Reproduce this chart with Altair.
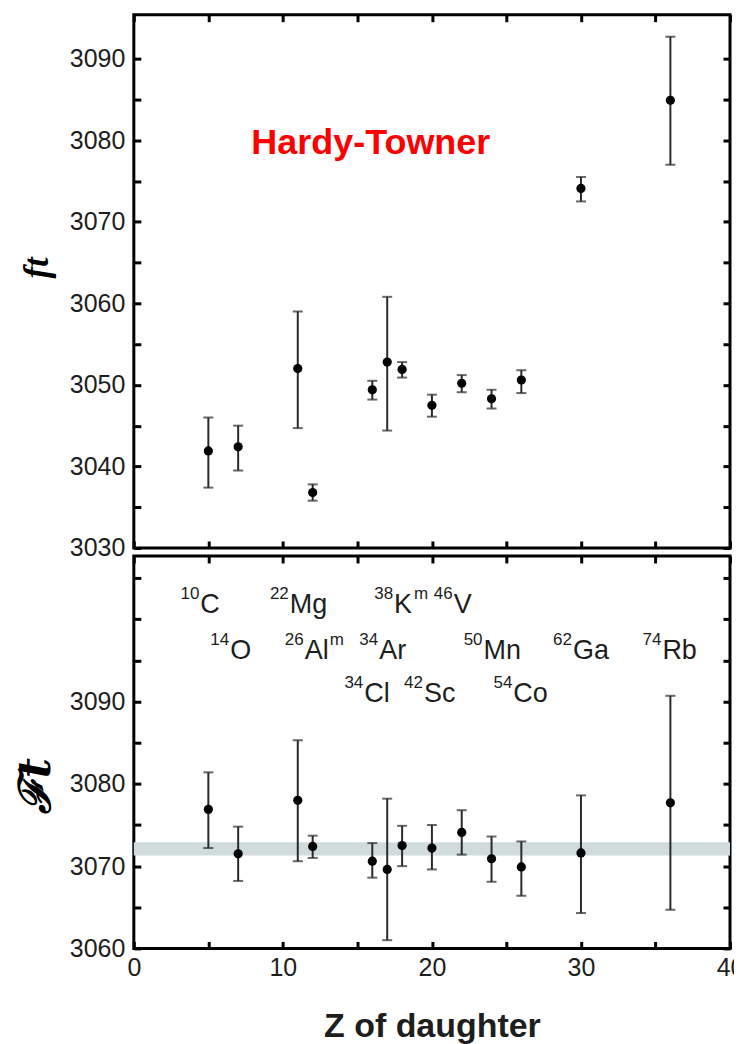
import altair as alt
import pandas as pd

# ---------------- data ----------------
NUCLIDE_MASS = ["10", "14", "22", "26", "34", "34", "38", "42", "46", "50", "54", "62", "74"]
NUCLIDE_SYM = ["C", "O", "Mg", "Al", "Cl", "Ar", "K", "Sc", "V", "Mn", "Co", "Ga", "Rb"]
NUCLIDE_ISO = ["", "", "", "m", "", "", "m", "", "", "", "", "", ""]
Z_DAUGHTER = [5, 7, 11, 12, 16, 17, 18, 20, 22, 24, 26, 30, 36]
LABEL_ROW = [1, 2, 1, 2, 3, 2, 1, 3, 1, 2, 3, 2, 2]

FT = [3041.9, 3042.4, 3052.0, 3036.8, 3049.4, 3052.8, 3051.9, 3047.5, 3050.2, 3048.3, 3050.6, 3074.1, 3084.9]
FT_LO = [3037.4, 3039.5, 3044.7, 3035.8, 3048.2, 3044.4, 3050.9, 3046.1, 3049.1, 3047.1, 3049.0, 3072.5, 3077.0]
FT_HI = [3046.0, 3045.0, 3059.0, 3037.8, 3050.5, 3060.8, 3052.8, 3048.8, 3051.2, 3049.4, 3051.8, 3075.5, 3092.7]

CFT = [3076.9, 3071.5, 3078.0, 3072.4, 3070.6, 3069.6, 3072.5, 3072.2, 3074.1, 3070.9, 3069.9, 3071.6, 3077.7]
CFT_LO = [3072.2, 3068.2, 3070.6, 3071.0, 3068.6, 3061.0, 3070.0, 3069.6, 3071.4, 3068.1, 3066.4, 3064.3, 3064.7]
CFT_HI = [3081.4, 3074.8, 3085.3, 3073.7, 3072.8, 3078.2, 3074.9, 3075.0, 3076.8, 3073.6, 3073.0, 3078.6, 3090.7]

BAND_LO = [3071.3]
BAND_HI = [3072.9]
BAND_X = [0]
BAND_X2 = [40]

ROW_Y = {1: 3100.8, 2: 3095.2, 3: 3090.0}   # label rows (Ft units)
TITLE_TEXT = ["Hardy-Towner"]
TITLE_Z = [15.9]
TITLE_FT = [3078.3]

X_TICKS = list(range(0, 41, 5))
Y_TICKS_TOP = list(range(3030, 3091, 5))
Y_TICKS_BOT = list(range(3060, 3106, 5))

X_DOMAIN = [0, 40]
Y_DOMAIN_TOP = [3030, 3095.4]
Y_DOMAIN_BOT = [3060, 3107.7]

# ---------------- tables ----------------
df = pd.DataFrame({
    "z": Z_DAUGHTER, "mass": NUCLIDE_MASS, "sym": NUCLIDE_SYM, "iso": NUCLIDE_ISO,
    "ft": FT, "ft_lo": FT_LO, "ft_hi": FT_HI,
    "Ft": CFT, "Ft_lo": CFT_LO, "Ft_hi": CFT_HI,
    "ly": [ROW_Y[r] for r in LABEL_ROW],
})
band = pd.DataFrame({"x": BAND_X, "x2": BAND_X2, "lo": BAND_LO, "hi": BAND_HI})
ttl = pd.DataFrame({"t": TITLE_TEXT, "z": TITLE_Z, "v": TITLE_FT})

W = 597
H_TOP = 534
H_BOT = 393
INK = "#1e1e1e"
BAR = "#2a2a2a"
FONT = "Liberation Sans"

xscale = alt.Scale(domain=X_DOMAIN, nice=False, zero=False)
yscale_top = alt.Scale(domain=Y_DOMAIN_TOP, nice=False, zero=False)
yscale_bot = alt.Scale(domain=Y_DOMAIN_BOT, nice=False, zero=False)

# inward ticks: negative tick length given as an expression
TICK = dict(domain=False, tickSize={"expr": "-7"}, tickWidth=3, tickColor="black", grid=False)
LBL = dict(labelFont=FONT, labelFontSize=25, labelColor=INK, format="d")


def xaxis(orient, labels, title=None, **kw):
    if labels:
        return alt.Axis(orient=orient, values=X_TICKS, labels=True, title=title,
                        labelExpr="datum.value % 10 === 0 ? datum.label : ''",
                        labelFlush=False, **TICK, **LBL, **kw)
    return alt.Axis(orient=orient, values=X_TICKS, labels=False, title=title, **TICK, **kw)


def yaxis(orient, values, labels, title=None, **kw):
    if labels:
        return alt.Axis(orient=orient, values=values, labels=True, title=title,
                        labelExpr="datum.value % 10 === 0 && datum.value <= 3090 ? datum.label : ''",
                        labelPadding=16, **TICK, **LBL, **kw)
    return alt.Axis(orient=orient, values=values, labels=False, title=title, **TICK, **kw)


def panel(data, col, lo, hi, yscale, yticks, ytitle, ytitle_font, ytitle_size, ytitle_y,
          ytitle_x, bottom_labels):
    base = alt.Chart(data)
    if bottom_labels:
        bx = xaxis("bottom", True, "Z of daughter", titleFont=FONT, titleFontSize=34,
                   titleFontWeight="bold", titleColor=INK, titlePadding=29, labelPadding=14)
    else:
        bx = xaxis("bottom", False)
    rules = base.mark_rule(color=BAR, strokeWidth=2).encode(
        x=alt.X("z:Q", scale=xscale, axis=bx),
        y=alt.Y(f"{lo}:Q", scale=yscale,
                axis=yaxis("left", yticks, True, ytitle, titleFont=ytitle_font,
                           titleFontSize=ytitle_size, titleFontWeight="bold",
                           titleFontStyle="italic", titleColor="black",
                           titleAngle=270, titleBaseline="alphabetic",
                           titleX=ytitle_x, titleY=ytitle_y)),
        y2=f"{hi}:Q",
    )
    cap_lo = base.mark_tick(orient="horizontal", size=10, thickness=2, color=BAR).encode(
        x=alt.X("z:Q", scale=xscale, axis=xaxis("top", False)),
        y=alt.Y(f"{lo}:Q", scale=yscale, axis=yaxis("right", yticks, False)),
    )
    cap_hi = base.mark_tick(orient="horizontal", size=10, thickness=2, color=BAR).encode(
        x=alt.X("z:Q", scale=xscale, axis=None),
        y=alt.Y(f"{hi}:Q", scale=yscale, axis=None),
    )
    pts = base.mark_circle(size=85, color="black", opacity=1).encode(
        x=alt.X("z:Q", scale=xscale, axis=None),
        y=alt.Y(f"{col}:Q", scale=yscale, axis=None),
    )
    return [rules, cap_lo, cap_hi, pts]


# ---------------- top panel: ft ----------------
top_layers = panel(df, "ft", "ft_lo", "ft_hi", yscale_top, Y_TICKS_TOP, "ft",
                   "Liberation Serif", 35, 253, -86, False)
hardy = alt.Chart(ttl).mark_text(font=FONT, fontSize=36, fontWeight="bold", color="#ff0000",
                                 align="center", baseline="alphabetic").encode(
    x=alt.X("z:Q", scale=xscale, axis=None),
    y=alt.Y("v:Q", scale=yscale_top, axis=None),
    text="t:N",
)
top = alt.layer(*top_layers, hardy).resolve_axis(x="independent", y="independent").properties(
    width=W, height=H_TOP)

# ---------------- bottom panel: Ft ----------------
band_layer = alt.Chart(band).mark_rect(color="#d0dcdb").encode(
    x=alt.X("x:Q", scale=xscale, axis=None),
    x2="x2:Q",
    y=alt.Y("lo:Q", scale=yscale_bot, axis=None),
    y2="hi:Q",
)
bot_layers = panel(df, "Ft", "Ft_lo", "Ft_hi", yscale_bot, Y_TICKS_BOT, "\u2131t",
                   "DejaVu Serif", 44, 230, -84, True)

lab = alt.Chart(df)
sup = lab.mark_text(font=FONT, fontSize=17, color=INK, align="right", baseline="alphabetic",
                    dx=-9, dy=-14).encode(
    x=alt.X("z:Q", scale=xscale, axis=None),
    y=alt.Y("ly:Q", scale=yscale_bot, axis=None),
    text="mass:N",
)
sym = lab.mark_text(font=FONT, fontSize=27, color=INK, align="left", baseline="alphabetic",
                    dx=-8).encode(
    x=alt.X("z:Q", scale=xscale, axis=None),
    y=alt.Y("ly:Q", scale=yscale_bot, axis=None),
    text="sym:N",
)
iso_k = lab.transform_filter("datum.sym === 'K'").mark_text(
    font=FONT, fontSize=17, color=INK, align="left", baseline="alphabetic", dx=12, dy=-14).encode(
    x=alt.X("z:Q", scale=xscale, axis=None),
    y=alt.Y("ly:Q", scale=yscale_bot, axis=None),
    text="iso:N",
)
iso_al = lab.transform_filter("datum.sym === 'Al'").mark_text(
    font=FONT, fontSize=17, color=INK, align="left", baseline="alphabetic", dx=17, dy=-14).encode(
    x=alt.X("z:Q", scale=xscale, axis=None),
    y=alt.Y("ly:Q", scale=yscale_bot, axis=None),
    text="iso:N",
)

bottom = alt.layer(band_layer, *bot_layers, sup, sym, iso_k, iso_al).resolve_axis(
    x="independent", y="independent").properties(width=W, height=H_BOT)

chart = alt.vconcat(top, bottom, spacing=8, bounds="flush").properties(
    padding={"left": 5, "top": 3, "right": -12, "bottom": 0},
    background="white",
).configure_view(stroke="black", strokeWidth=3)

chart.save("out.html", embed_options={"renderer": "svg", "actions": False})
